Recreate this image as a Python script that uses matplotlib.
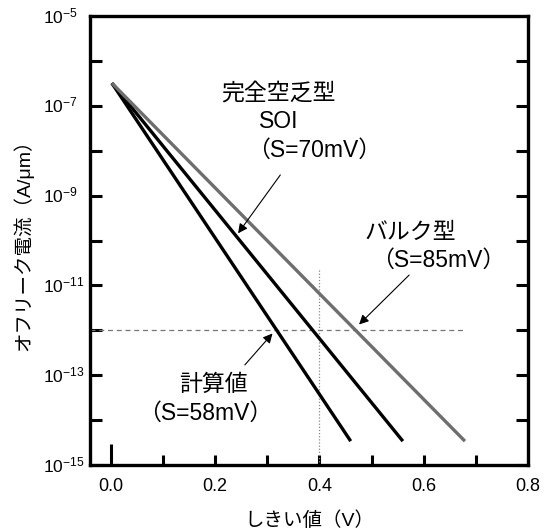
import numpy as np
import matplotlib
matplotlib.use("Agg")
import matplotlib.pyplot as plt
from matplotlib.ticker import FixedLocator, NullFormatter

plt.rcParams['font.family'] = ['Liberation Sans', 'Noto Sans CJK JP']
plt.rcParams['mathtext.fontset'] = 'custom'
plt.rcParams['mathtext.rm'] = 'Liberation Sans'
plt.rcParams['mathtext.it'] = 'Liberation Sans:italic'

# ---- data ----
series_names = ["計算値", "完全空乏型SOI", "バルク型"]
swing_mV = [58, 70, 85]
x_start = [0.002, 0.002, 0.002]
y_start = [3.2e-7, 3.2e-7, 3.2e-7]
x_end = [0.46, 0.56, 0.679]
y_end = [3.4e-15, 3.4e-15, 3.4e-15]
line_colors = ["#000000", "#000000", "#6e6e6e"]

ref_current = 1e-12
ref_vth = 0.4
ref_vth_top = 2.5e-11
ref_h_xend = 0.68

x_ticks = [0.0, 0.1, 0.2, 0.3, 0.4, 0.5, 0.6, 0.7]
x_labels = ["0.0", "0.2", "0.4", "0.6", "0.8"]
x_label_pos = [0.0, 0.2, 0.4, 0.6, 0.8]
y_ticks_exp = list(range(-15, -5))
y_label_exp = [-15, -13, -11, -9, -7, -5]

fig = plt.figure(figsize=(5.47, 5.30), dpi=100)
ax = fig.add_axes([0.1645, 0.1226, 0.8008, 0.8472])

ax.set_yscale('log')
ax.set_xlim(-0.04, 0.8)
ax.set_ylim(1e-15, 1e-5)

for xs, ys, xe, ye, c in zip(x_start, y_start, x_end, y_end, line_colors):
    ax.plot([xs, xe], [ys, ye], color=c, lw=2.4, solid_capstyle='butt', zorder=3)

ax.plot([-0.04, ref_h_xend], [ref_current, ref_current], color='#777777',
        lw=0.9, dashes=(4, 3), zorder=2)
ax.plot([ref_vth, ref_vth], [1e-15, ref_vth_top], color='#888888',
        lw=0.9, linestyle=(0, (1, 1.5)), zorder=2)

# ticks
ax.xaxis.set_major_locator(FixedLocator(x_ticks))
ax.xaxis.set_major_formatter(NullFormatter())
ax.tick_params(axis='x', which='major', direction='in', length=7, width=2.2,
               bottom=True, top=False)
ticks = ax.xaxis.get_major_ticks()
ticks[0].tick1line.set_markersize(15)
for xv, lab in zip(x_label_pos, x_labels):
    ax.text(xv, -0.028, lab, transform=ax.get_xaxis_transform(),
            ha='center', va='top', fontsize=13)

ax.yaxis.set_major_locator(FixedLocator([10.0 ** e for e in y_ticks_exp]))
ax.yaxis.set_minor_locator(FixedLocator([]))
ax.yaxis.set_major_formatter(NullFormatter())
ax.tick_params(axis='y', which='major', direction='in', length=8.5, width=2.2,
               left=True, right=True)
for e in y_label_exp:
    ax.text(-0.107, 10.0 ** e, r'$10^{%d}$' % e, transform=ax.get_yaxis_transform(),
            ha='left', va='center', fontsize=12.5)

for s in ax.spines.values():
    s.set_linewidth(2.4)

ax.set_xlabel("しきい値（V）", fontsize=14, labelpad=30)
ax.set_ylabel("オフリーク電流（A/μm）", fontsize=14)
ax.yaxis.set_label_coords(-0.13, 0.5)

# annotations
fs = 16.5
ax.text(0.322, 10 ** -6.71, "完全空乏型", ha='center', va='center', fontsize=fs)
ax.text(0.322, 10 ** -7.36, "SOI", ha='center', va='center', fontsize=fs)
ax.text(0.390, 10 ** -7.98, "（S=70mV）", ha='center', va='center', fontsize=fs)
ax.text(0.575, 10 ** -9.83, "バルク型", ha='center', va='center', fontsize=fs)
ax.text(0.628, 10 ** -10.43, "（S=85mV）", ha='center', va='center', fontsize=fs)
ax.text(0.197, 10 ** -13.2, "計算値", ha='center', va='center', fontsize=fs)
ax.text(0.180, 10 ** -13.84, "（S=58mV）", ha='center', va='center', fontsize=fs)

arrow = dict(arrowstyle='-|>', lw=0.8, color='black', mutation_scale=14,
             shrinkA=0, shrinkB=0)
ax.annotate("", xy=(0.244, 10 ** -9.84), xytext=(0.325, 10 ** -8.54), arrowprops=arrow)
ax.annotate("", xy=(0.476, 10 ** -11.87), xytext=(0.572, 10 ** -10.77), arrowprops=arrow)
ax.annotate("", xy=(0.31, 10 ** -12.07), xytext=(0.257, 10 ** -12.77), arrowprops=arrow)

fig.savefig("out.png", dpi=100)
